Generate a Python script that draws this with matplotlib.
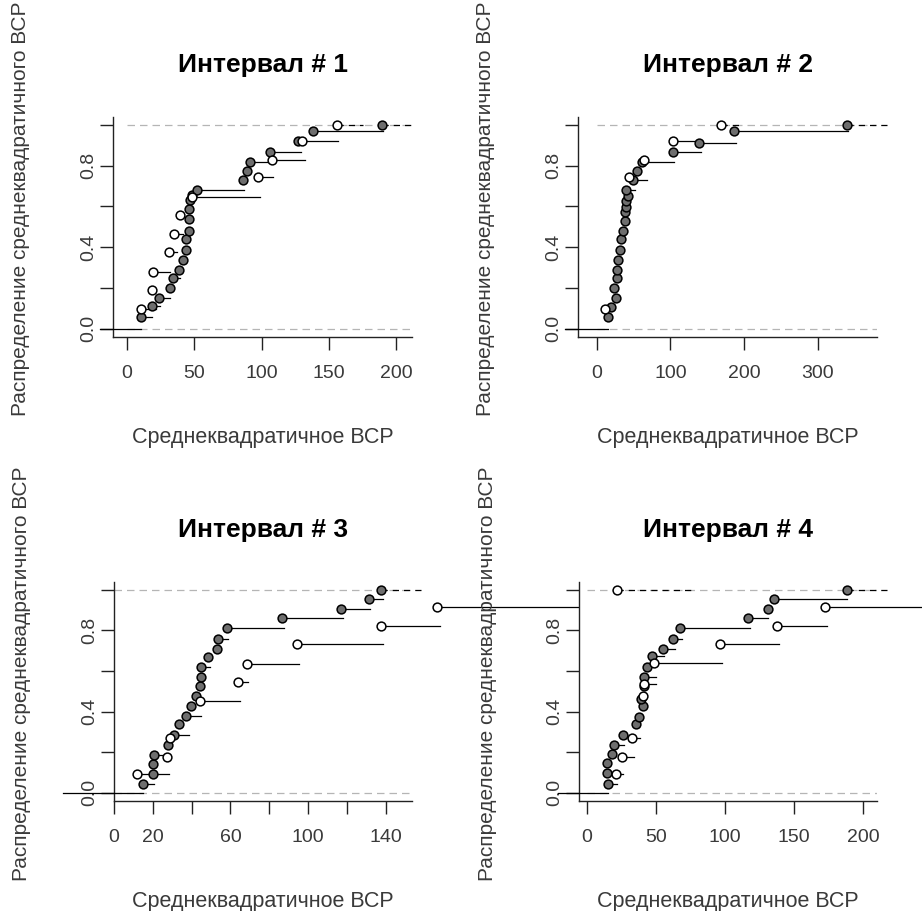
import numpy as np
import matplotlib
matplotlib.use("Agg")
import matplotlib.pyplot as plt

plt.rcParams['font.family'] = ['Liberation Sans', 'DejaVu Sans']

# ---------------- data ----------------
titles = ["Интервал # 1", "Интервал # 2", "Интервал # 3", "Интервал # 4"]
xlabel = "Среднеквадратичное ВСР"
ylabel = "Распределение среднеквадратичного ВСР"

# panel 1
p1_fill_x = [10.9, 18.8, 24, 32, 34, 38.9, 41.9, 43.9, 43.9, 46.3, 46.3, 46.3, 46.8,
             48.8, 52.5, 86.5, 89, 91.4, 106.3, 127.4, 138.5, 189.4]
p1_fill_y = [0.056, 0.11, 0.148, 0.197, 0.247, 0.289, 0.338, 0.388, 0.441, 0.479, 0.537,
             0.587, 0.633, 0.657, 0.678, 0.728, 0.773, 0.819, 0.869, 0.919, 0.968, 1.0]
p1_fill_end = [19, 24.5, 32.5, 32, 39.4, 38.9, 41.9, 43.9, 43.9, 46.3, 46.3, 46.3, 46.8,
               48.8, 87, 86.5, 89, 107.6, 129, 127.4, 190, 214]
p1_open_x = [10.9, 18.8, 19.6, 31.2, 35, 39.9, 48.8, 97.6, 107.6, 129.9, 156]
p1_open_y = [0.094, 0.189, 0.28, 0.375, 0.466, 0.557, 0.645, 0.745, 0.827, 0.919, 1.0]
p1_open_end = [22, 18.8, 32.5, 37, 41.9, 39.9, 99, 108.8, 132, 157, 175]

# panel 2
p2_fill_x = [15.9, 19, 25.9, 23.6, 28.2, 28.2, 29.5, 31.3, 32.7, 36.3, 38.6, 38.6, 39.5,
             39.5, 41.8, 40.4, 48.6, 54.4, 61.2, 104, 139, 185.8, 339.7]
p2_fill_y = [0.056, 0.106, 0.148, 0.197, 0.247, 0.289, 0.338, 0.388, 0.438, 0.479, 0.529,
             0.57, 0.596, 0.628, 0.653, 0.678, 0.728, 0.773, 0.819, 0.866, 0.913, 0.968, 1.0]
p2_fill_end = [15.9, 24, 25.9, 23.6, 28.2, 28.2, 29.5, 31.3, 32.7, 36.3, 38.6, 38.6, 39.5,
               39.5, 41.8, 52, 68, 54.4, 105, 141, 189, 341, 395]
p2_open_x = [11.3, 44, 64.4, 103, 168.7]
p2_open_y = [0.098, 0.745, 0.827, 0.919, 1.0]
p2_open_end = [20, 44, 64.4, 139, 195]

# panel 3
p3_fill_x = [14.8, 20.3, 20.3, 20.8, 28, 31.1, 33.5, 37.1, 39.7, 42.1, 44.3, 44.8, 44.8,
             48.3, 52.9, 53.8, 58.1, 86.4, 116.8, 131.4, 137.6]
p3_fill_y = [0.046, 0.093, 0.141, 0.187, 0.237, 0.284, 0.337, 0.378, 0.428, 0.478, 0.527,
             0.572, 0.619, 0.668, 0.71, 0.76, 0.813, 0.862, 0.904, 0.954, 1.0]
p3_fill_end = [20.8, 28.5, 20.3, 27, 28, 38.8, 33.5, 44.8, 39.7, 42.1, 44.3, 44.8, 49.5,
               48.3, 52.9, 58.9, 87.6, 117.9, 132, 138.5, 158.6]
p3_open_x = [12, 27.5, 28.9, 44.3, 64.1, 68.4, 94.2, 137.6, 166.5]
p3_open_y = [0.093, 0.176, 0.27, 0.453, 0.547, 0.635, 0.731, 0.821, 0.915]
p3_open_end = [20.3, 27.5, 28.9, 65, 69.2, 95.4, 138.5, 168, 260]

# panel 4
p4_fill_x = [15.2, 14.5, 14.5, 18.1, 19.7, 26, 35.6, 38, 40.5, 39.2, 41.4, 41.6, 43.8,
             47, 55.4, 62.6, 67.4, 116.8, 130.8, 135.6, 187.9]
p4_fill_y = [0.046, 0.096, 0.146, 0.191, 0.237, 0.287, 0.337, 0.375, 0.428, 0.461, 0.527,
             0.569, 0.619, 0.672, 0.71, 0.76, 0.813, 0.862, 0.905, 0.954, 1.0]
p4_fill_end = [21.7, 14.5, 14.5, 18.1, 27, 26, 35.6, 38, 40.5, 39.2, 41.4, 50, 43.8,
               56, 63.8, 68.6, 118, 131.2, 130.8, 187.9, 216.8]
p4_open_x = [21.2, 25.3, 33, 40.9, 41.4, 48.9, 96.3, 137.3, 172.2, 22.1]
p4_open_y = [0.093, 0.179, 0.27, 0.478, 0.535, 0.638, 0.731, 0.821, 0.914, 1.0]
p4_open_end = [26.5, 34.2, 38.5, 40.9, 50, 97.5, 139, 173.9, 242, 78]

# left tail of each step function (from "-inf")
tail_left = [-19.8, -43, -26.3, -20.7]

# axis settings
xlims = [(-9.9, 211.6), (-25, 380), (0, 153.6), (-5.3, 209.8)]
xticks = [[0, 50, 100, 150, 200], [0, 100, 200, 300],
          [0, 20, 40, 60, 80, 100, 120, 140], [0, 50, 100, 150, 200]]
xticklabels = [["0", "50", "100", "150", "200"], ["0", "100", "200", "300"],
               ["0", "20", "", "60", "", "100", "", "140"], ["0", "50", "100", "150", "200"]]
yticks = [0, 0.2, 0.4, 0.6, 0.8, 1.0]
yticklabels = ["0.0", "", "0.4", "", "0.8", ""]

panels = [
    (p1_fill_x, p1_fill_y, p1_fill_end, p1_open_x, p1_open_y, p1_open_end),
    (p2_fill_x, p2_fill_y, p2_fill_end, p2_open_x, p2_open_y, p2_open_end),
    (p3_fill_x, p3_fill_y, p3_fill_end, p3_open_x, p3_open_y, p3_open_end),
    (p4_fill_x, p4_fill_y, p4_fill_end, p4_open_x, p4_open_y, p4_open_end),
]

# axes boxes in pixels: left, right, top, bottom
W, H = 922, 911
boxes = [(113.3, 412, 116.7, 336.7), (578.3, 876.7, 116.7, 336.7),
         (114, 412, 581.7, 801), (579.3, 877, 581.7, 801)]

TXT = "#3a3a3a"
fig = plt.figure(figsize=(W / 100, H / 100), dpi=100)


def draw_steps(ax, xs, ys, ends, face):
    for x, y, e in zip(xs, ys, ends):
        ls = (0, (5, 4)) if y >= 1.0 else "-"
        ax.plot([x, e], [y, y], color="black", lw=0.9, ls=ls,
                clip_on=False, zorder=3)
    ax.scatter(xs, ys, s=40, facecolor=face, edgecolor="black",
               linewidth=1.1, zorder=4, clip_on=False)


for i, (fx, fy, fe, ox, oy, oe) in enumerate(panels):
    l, r, t, b = boxes[i]
    ax = fig.add_axes([l / W, 1 - b / H, (r - l) / W, (b - t) / H])
    ax.set_xlim(*xlims[i])
    ax.set_ylim(-0.04, 1.04)

    # reference lines at 0 and 1
    for h in (0, 1):
        ax.plot([0, xlims[i][1]], [h, h], color="#b5b5b5", lw=0.9,
                ls=(0, (6, 4)), zorder=1)
    # leftmost step from -inf
    ax.plot([tail_left[i], fx[0]], [0, 0], color="black", lw=0.9,
            clip_on=False, zorder=3)

    draw_steps(ax, fx, fy, fe, "#6e6e6e")
    draw_steps(ax, ox, oy, oe, "white")

    ax.spines["top"].set_visible(False)
    ax.spines["right"].set_visible(False)
    for s in ("left", "bottom"):
        ax.spines[s].set_linewidth(1.0)
        ax.spines[s].set_color("#222222")

    ax.set_xticks(xticks[i])
    ax.set_xticklabels(xticklabels[i])
    ax.set_yticks(yticks)
    ax.set_yticklabels(yticklabels, rotation=90, va="center")
    ax.tick_params(axis="both", direction="out", length=9.5, width=1.0,
                   color="#222222", labelsize=14, labelcolor=TXT)
    ax.tick_params(axis="x", pad=11)
    ax.tick_params(axis="y", pad=2)

    ax.set_xlabel(xlabel, fontsize=15.5, color=TXT)
    ax.xaxis.set_label_coords(0.5, -0.456)
    ax.xaxis.label.set_va("center")
    ax.set_ylabel(ylabel, fontsize=15, color=TXT)
    ax.yaxis.set_label_coords(-0.31, 0.58)
    ax.yaxis.label.set_va("center")

    ax.set_title(titles[i], fontsize=19, fontweight="bold",
                 y=1 + 52 / (b - t), pad=0, va="center")

fig.savefig("out.png", dpi=100)
